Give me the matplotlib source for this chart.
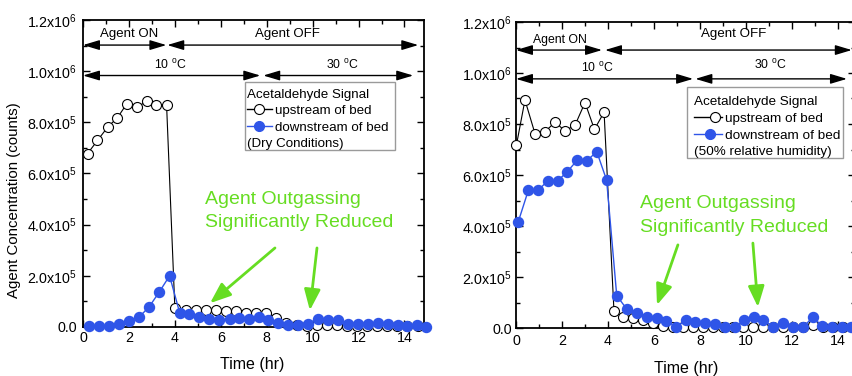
import matplotlib
matplotlib.use("Agg")
import matplotlib.pyplot as plt
from matplotlib.patches import Rectangle
from matplotlib.lines import Line2D
from matplotlib.transforms import Affine2D
from matplotlib.ticker import MultipleLocator, FixedLocator, FixedFormatter

plt.rcParams['font.family'] = ['Liberation Sans', 'DejaVu Sans']
plt.rcParams['mathtext.default'] = 'regular'

# ---------------- data ----------------
# Dry conditions
t_up_dry = [0.2, 0.63, 1.08, 1.5, 1.91, 2.34, 2.79, 3.2, 3.64, 4.0, 4.47, 4.91, 5.35,
            5.79, 6.23, 6.66, 7.1, 7.54, 7.98, 8.42, 8.86, 9.3, 9.74, 10.18, 10.61,
            11.05, 11.49, 11.93, 12.37, 12.81, 13.25, 13.69, 14.13, 14.57]
up_dry = [678e3, 729e3, 782e3, 818e3, 873e3, 858e3, 884e3, 867e3, 867e3, 74e3, 67e3,
          65e3, 65e3, 65e3, 61e3, 62e3, 56e3, 54e3, 54e3, 35e3, 15e3, 6e3, 2e3, 6e3,
          8e3, 6e3, 2e3, 2e3, 2e3, 2e3, 2e3, 2e3, 2e3, 2e3]
t_dn_dry = [0.28, 0.71, 1.14, 1.58, 2.02, 2.46, 2.89, 3.33, 3.77, 4.21, 4.63, 5.07, 5.5,
            5.94, 6.38, 6.78, 7.22, 7.66, 8.07, 8.51, 8.93, 9.35, 9.78, 10.22, 10.66,
            11.1, 11.56, 11.97, 12.41, 12.84, 13.28, 13.71, 14.12, 14.56, 14.93]
dn_dry = [4e3, 4e3, 4e3, 12e3, 24e3, 40e3, 80e3, 138e3, 200e3, 56e3, 52e3, 41e3, 32e3,
          29e3, 32e3, 36e3, 32e3, 38e3, 28e3, 16e3, 8e3, 8e3, 12e3, 32e3, 28e3, 29e3,
          12e3, 10e3, 12e3, 14e3, 10e3, 8e3, 4e3, 8e3, 0]

# 50 % relative humidity
t_up_wet = [0.02, 0.39, 0.83, 1.26, 1.7, 2.13, 2.57, 3.0, 3.41, 3.83, 4.26, 4.67, 5.1,
            5.53, 5.97, 6.4, 6.84, 7.27, 7.7, 8.14, 8.57, 9.0, 9.44, 9.87, 10.3, 10.74,
            11.17, 11.61, 12.04, 12.47, 12.91, 13.34, 13.77, 14.21, 14.64]
up_wet = [718e3, 894e3, 761e3, 770e3, 807e3, 773e3, 796e3, 884e3, 779e3, 846e3, 66e3,
          43e3, 38e3, 31e3, 18e3, 6e3, 3e3, 3e3, 5e3, 3e3, 3e3, 3e3, 3e3, 5e3, 5e3, 3e3,
          5e3, 3e3, 5e3, 3e3, 10e3, 5e3, 3e3, 5e3, 5e3]
t_dn_wet = [0.1, 0.54, 0.97, 1.38, 1.81, 2.23, 2.67, 3.09, 3.51, 3.94, 4.38, 4.81, 5.25,
            5.68, 6.12, 6.52, 6.96, 7.39, 7.78, 8.22, 8.65, 9.09, 9.52, 9.93, 10.35,
            10.75, 11.19, 11.62, 12.06, 12.47, 12.93, 13.29, 13.73, 14.16, 14.55]
dn_wet = [417e3, 541e3, 541e3, 577e3, 577e3, 613e3, 659e3, 656e3, 692e3, 580e3, 127e3,
          75e3, 57e3, 43e3, 39e3, 29e3, 4e3, 31e3, 25e3, 21e3, 17e3, 4e3, 5e3, 31e3,
          44e3, 31e3, 5e3, 20e3, 4e3, 3e3, 44e3, 7e3, 4e3, 3e3, 5e3]

ytick_values = [0, 2e5, 4e5, 6e5, 8e5, 1.0e6, 1.2e6]
ytick_labels = ['0.0', r'2.0x10$^{5}$', r'4.0x10$^{5}$', r'6.0x10$^{5}$',
                r'8.0x10$^{5}$', r'1.0x10$^{6}$', r'1.2x10$^{6}$']
xtick_values = [0, 2, 4, 6, 8, 10, 12, 14]

BLUE = '#2f55e8'
GREEN = '#66dd22'

W, H = 852, 376
fig = plt.figure(figsize=(W / 100, H / 100), dpi=100)
pix = Affine2D().scale(1 / W, -1 / H).translate(0, 1) + fig.transFigure


def frame(rect_px, xmax, xpad, ypad):
    x0, y0, w, h = rect_px
    ax = fig.add_axes([x0 / W, 1 - (y0 + h) / H, w / W, h / H])
    ax.set_xlim(0, xmax)
    ax.set_ylim(0, 1.2e6)
    ax.xaxis.set_major_locator(FixedLocator(xtick_values))
    ax.xaxis.set_minor_locator(MultipleLocator(1))
    ax.yaxis.set_major_locator(FixedLocator(ytick_values))
    ax.yaxis.set_major_formatter(FixedFormatter(ytick_labels))
    ax.yaxis.set_minor_locator(MultipleLocator(1e5))
    ax.tick_params(which='both', direction='in', top=True, right=True,
                   labelsize=10.3, width=1.0)
    ax.tick_params(which='major', length=5)
    ax.tick_params(which='minor', length=3)
    ax.tick_params(axis='x', which='major', pad=xpad)
    ax.tick_params(axis='y', which='major', pad=ypad)
    for s in ax.spines.values():
        s.set_linewidth(1.3)
    return ax


def series(ax, t_up, up, t_dn, dn):
    ax.plot(t_up, up, '-', color='black', lw=0.8, marker='o', ms=7.2,
            mfc='white', mec='black', mew=0.8, zorder=3, clip_on=False)
    ax.plot(t_dn, dn, '-', color=BLUE, lw=1.0, marker='o', ms=7.2,
            mfc=BLUE, mec=BLUE, zorder=4, clip_on=False)


def span(ax, x0, x1, y):
    ax.annotate('', xy=(x1, y), xytext=(x0, y), annotation_clip=False,
                arrowprops=dict(arrowstyle='<|-|>,head_length=1.0,head_width=0.3',
                                color='black', lw=1.0, shrinkA=0, shrinkB=0,
                                mutation_scale=10))


def green_arrow(ax, start, end):
    ax.annotate('', xy=end, xytext=start,
                arrowprops=dict(arrowstyle='-|>,head_length=0.9,head_width=0.35',
                                color=GREEN, lw=2.0, shrinkA=0, shrinkB=0,
                                mutation_scale=14))


def legend_box(box, title_xy, rows, note, note_xy, fs):
    bx, by, bw, bh = box
    fig.add_artist(Rectangle((bx, by), bw, bh, transform=pix, facecolor='white',
                             edgecolor='#9a9a9a', lw=1.0))
    fig.text(*title_xy, 'Acetaldehyde Signal', transform=pix, fontsize=fs,
             ha='left', va='baseline')
    for (lx0, lx1, ly, mx, tx, ty, label, color, face) in rows:
        fig.add_artist(Line2D([lx0, lx1], [ly, ly], transform=pix, color=color, lw=1.0))
        fig.add_artist(Line2D([mx], [ly], transform=pix, marker='o', ms=7.2,
                              mfc=face, mec=color, mew=0.8, color=color))
        fig.text(tx, ty, label, transform=pix, fontsize=fs, ha='left', va='baseline')
    fig.text(*note_xy, note, transform=pix, fontsize=fs, ha='left', va='baseline')


# ---------------- left panel: dry ----------------
axL = frame((83, 20, 341, 307), 14.85, 3.0, 4.0)
series(axL, t_up_dry, up_dry, t_dn_dry, dn_dry)
span(axL, 0, 3.63, 1.102e6)
span(axL, 3.67, 14.6, 1.102e6)
span(axL, 0, 7.72, 0.983e6)
span(axL, 7.85, 14.38, 0.983e6)
axL.text(2.02, 1.132e6, 'Agent ON', ha='center', va='baseline', fontsize=9.5)
axL.text(8.89, 1.132e6, 'Agent OFF', ha='center', va='baseline', fontsize=9.5)
axL.text(3.8, 1.007e6, r'10 $^{o}$C', ha='center', va='baseline', fontsize=8.8)
axL.text(11.29, 1.007e6, r'30 $^{o}$C', ha='center', va='baseline', fontsize=8.8)
axL.text(5.31, 4.81e5, 'Agent Outgassing', color=GREEN, fontsize=14,
         ha='left', va='baseline')
axL.text(5.31, 3.91e5, 'Significantly Reduced', color=GREEN, fontsize=14,
         ha='left', va='baseline')
green_arrow(axL, (8.36, 3.09e5), (5.53, 0.93e5))
green_arrow(axL, (10.19, 3.09e5), (9.88, 0.65e5))

legend_box((245, 82, 150, 68), (247, 98),
           [(247, 272, 109, 259, 275, 114, 'upstream of bed', 'black', 'white'),
            (247, 272, 126, 259, 275, 131, 'downstream of bed', BLUE, BLUE)],
           '(Dry Conditions)', (247, 147), 9.6)

fig.text(14, 200, 'Agent Concentration (counts)', transform=pix, rotation=90,
         ha='center', va='center', fontsize=10.8)
fig.text(252, 364, 'Time (hr)', transform=pix, ha='center', va='center', fontsize=11.5)

# ---------------- right panel: 50 % RH ----------------
axR = frame((516, 22, 339, 306), 14.74, 4.5, 3.0)
series(axR, t_up_wet, up_wet, t_dn_wet, dn_wet)
span(axR, 0, 3.74, 1.090e6)
span(axR, 3.87, 14.6, 1.090e6)
span(axR, 0, 7.7, 0.977e6)
span(axR, 7.8, 14.39, 0.977e6)
axR.text(1.91, 1.118e6, 'Agent ON', ha='center', va='baseline', fontsize=8.8)
axR.text(9.48, 1.141e6, 'Agent OFF', ha='center', va='baseline', fontsize=9.6)
axR.text(3.52, 1.004e6, r'10 $^{o}$C', ha='center', va='baseline', fontsize=8.8)
axR.text(11.04, 1.016e6, r'30 $^{o}$C', ha='center', va='baseline', fontsize=8.8)
axR.text(5.39, 4.70e5, 'Agent Outgassing', color=GREEN, fontsize=14,
         ha='left', va='baseline')
axR.text(5.39, 3.75e5, 'Significantly Reduced', color=GREEN, fontsize=14,
         ha='left', va='baseline')
green_arrow(axR, (7.04, 3.26e5), (6.13, 0.90e5))
green_arrow(axR, (10.3, 3.33e5), (10.52, 0.82e5))

legend_box((687, 87, 156, 71), (694, 105),
           [(694, 722, 117, 715, 725, 122, 'upstream of bed', 'black', 'white'),
            (694, 722, 134, 710, 725, 139, 'downstream of bed', BLUE, BLUE)],
           '(50% relative humidity)', (694, 155), 9.7)

fig.text(686, 369, 'Time (hr)', transform=pix, ha='center', va='center', fontsize=11.5)

fig.savefig('out.png', dpi=100)
